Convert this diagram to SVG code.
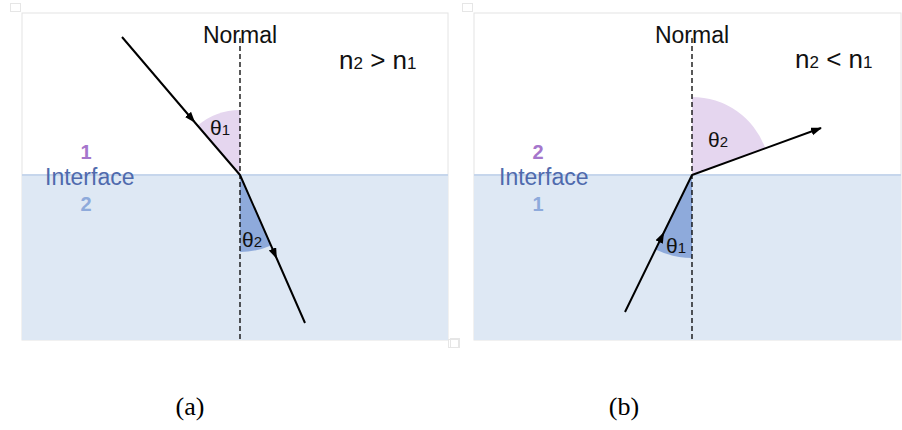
<svg xmlns="http://www.w3.org/2000/svg" width="902" height="430" viewBox="0 0 902 430">
<defs>
<marker id="arr" markerUnits="userSpaceOnUse" markerWidth="12" markerHeight="10" refX="10" refY="4" orient="auto">
<path d="M0,0 L11,4 L0,8 Z" fill="#000"/>
</marker>
<style>
.frame{fill:#fff;stroke:#e4e4e4;stroke-width:1}
.med2{fill:#dee8f4}
.iface{stroke:#c6d6ec;stroke-width:2}
.handle{fill:none;stroke:#e6e6e6;stroke-width:1}
.normal{stroke:#000;stroke-width:1.3;stroke-dasharray:5,3;fill:none}
.ray{stroke:#000;stroke-width:2;fill:none}
.wp{fill:#e5d6ef}
.wb{fill:#8eaadb}
.t{font-family:"Liberation Sans",Arial,sans-serif;fill:#111}
.th{font-family:"Liberation Sans",Arial,sans-serif;fill:#111;font-size:21px}
.num{font-family:"Liberation Sans",Arial,sans-serif;font-weight:bold;font-size:20px;text-anchor:middle}
.iftxt{font-family:"Liberation Sans",Arial,sans-serif;font-size:23px;fill:#4f6aad}
.cap{font-family:"Liberation Serif","Times New Roman",serif;font-size:26px;fill:#000;text-anchor:middle}
</style>
</defs>

<g id="panel-a">
<rect class="frame" x="22" y="13" width="426" height="327"/>
<rect class="med2" x="22" y="175" width="426" height="165"/>
<line class="iface" x1="22" y1="175" x2="448" y2="175"/>
<rect class="handle" x="10.5" y="3.5" width="10" height="8"/>
<rect class="handle" x="448.5" y="339.5" width="10" height="8"/>
</g>
<g id="panel-b">
<rect class="frame" x="474" y="13" width="427" height="327"/>
<rect class="med2" x="474" y="175" width="427" height="165"/>
<line class="iface" x1="474" y1="175" x2="901" y2="175"/>
<rect class="handle" x="462.5" y="3.5" width="10" height="8"/>
<rect class="handle" x="450.5" y="338.5" width="9" height="9"/>
</g>

<g id="angle-a1"><path class="wp" d="M240,175 L240,110 A65,65 0 0,0 197.7,125.6 Z"/><text class="th" x="210" y="135">θ<tspan font-size="15">1</tspan></text></g>
<g id="angle-a2"><path class="wb" d="M240,175 L240,252 A77,77 0 0,0 271,245.5 Z"/><text class="th" x="242" y="247">θ<tspan font-size="15">2</tspan></text></g>
<g id="angle-b2"><path class="wp" d="M692,175 L692,97 A78,78 0 0,1 765.3,148.3 Z"/><text class="th" x="708" y="147">θ<tspan font-size="15">2</tspan></text></g>
<g id="angle-b1"><path class="wb" d="M692,175 L692,258 A83,83 0 0,1 655.6,249.5 Z"/><text class="th" x="666" y="253">θ<tspan font-size="15">1</tspan></text></g>

<g id="connectors">
<line class="normal" x1="240" y1="38" x2="240" y2="340"/>
<line class="normal" x1="692" y1="38" x2="692" y2="340"/>
<polyline class="ray" points="122,37 194.5,122 240,175" marker-mid="url(#arr)"/>
<polyline class="ray" points="240,175 276.5,258 305,323" marker-mid="url(#arr)"/>
<polyline class="ray" points="625,312 663.6,233 692,175" marker-mid="url(#arr)"/>
<line class="ray" x1="692" y1="175" x2="821" y2="128" marker-end="url(#arr)"/>
</g>

<g id="labels-a">
<text class="t" x="240" y="43" font-size="23" text-anchor="middle">Normal</text>
<text class="t" x="339" y="69" font-size="26">n<tspan font-size="17">2</tspan> &gt; n<tspan font-size="17">1</tspan></text>
<text class="num" x="86" y="159" fill="#a576cc">1</text>
<text class="iftxt" x="45" y="185">Interface</text>
<text class="num" x="86" y="211" fill="#8eaadb">2</text>
<text class="cap" x="190" y="415">(a)</text>
</g>
<g id="labels-b">
<text class="t" x="692" y="43" font-size="23" text-anchor="middle">Normal</text>
<text class="t" x="795" y="68" font-size="26">n<tspan font-size="17">2</tspan> &lt; n<tspan font-size="17">1</tspan></text>
<text class="num" x="538" y="159" fill="#a576cc">2</text>
<text class="iftxt" x="499" y="185">Interface</text>
<text class="num" x="538" y="211" fill="#8eaadb">1</text>
<text class="cap" x="624" y="415">(b)</text>
</g>
</svg>
